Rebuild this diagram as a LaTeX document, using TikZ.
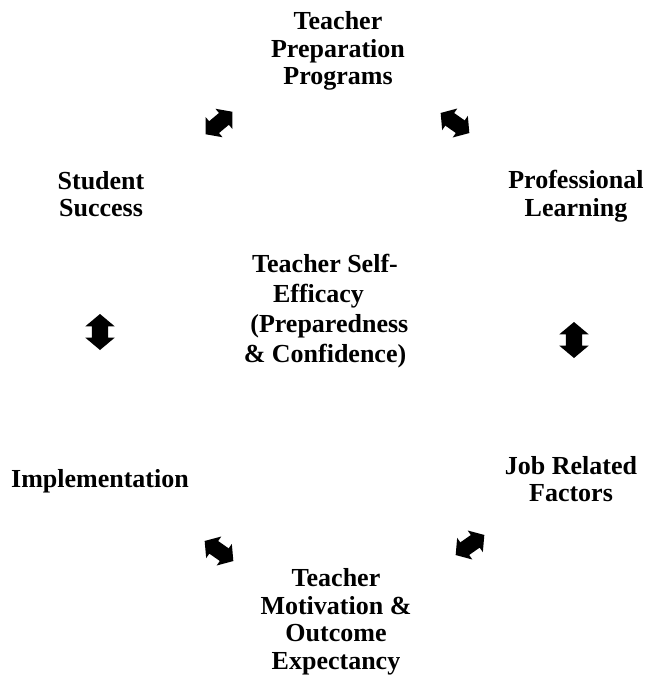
\documentclass[tikz,border=0pt]{standalone}
\usepackage{fontspec}
\setmainfont{Liberation Serif}
\usetikzlibrary{shapes.arrows}
\begin{document}
\begin{tikzpicture}[x=1pt,y=-1pt,
  lbl/.style={font=\bfseries\fontsize{26}{27.5}\selectfont, align=center, inner sep=0pt},
  ctr/.style={font=\bfseries\fontsize{26}{30}\selectfont, align=center, inner sep=0pt},
  dblarrow/.style={double arrow, fill=black, draw=none, inner xsep=0pt, inner ysep=7.5pt,
    minimum height=35pt, minimum width=26pt,
    double arrow head extend=5.5pt, double arrow tip angle=100}]
\useasboundingbox (0,0) rectangle (647,678);
\node[lbl] (tpp) at (338,51) {Teacher\\Preparation\\Programs};
\node[lbl] (ss) at (101,194) {Student\\Success};
\node[lbl] (pl) at (576,196) {Professional\\Learning};
\node[ctr] (tse) at (325,311) {Teacher Self-\\Efficacy\phantom{y}\\\phantom{(}(Preparedness\\\& Confidence)};
\node[lbl] (imp) at (100,481) {Implementation};
\node[lbl] (jrf) at (571,479) {Job Related\\Factors};
\node[lbl] (tmo) at (336,622) {Teacher\\Motivation \&\\Outcome\\Expectancy};
\node[dblarrow, rotate=40] (a1) at (219,123) {};
\node[dblarrow, rotate=-35] (a2) at (455,123) {};
\node[dblarrow, rotate=90, minimum height=36pt, minimum width=29pt, inner ysep=8pt, double arrow head extend=6.5pt] (a3) at (100,332) {};
\node[dblarrow, rotate=90, minimum height=36pt, minimum width=29pt, inner ysep=8pt, double arrow head extend=6.5pt] (a4) at (574,340) {};
\node[dblarrow, rotate=-35] (a5) at (219,551) {};
\node[dblarrow, rotate=35] (a6) at (470,545) {};
\end{tikzpicture}
\end{document}
